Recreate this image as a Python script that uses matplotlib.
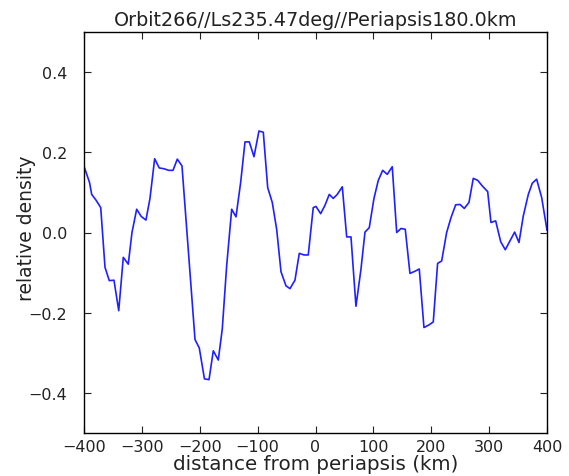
import matplotlib
matplotlib.use("Agg")
import matplotlib.pyplot as plt

distance_km = [
    -400.0, -390.5, -386.7, -378.9, -371.1, -363.7, -356.3, -348.2, -340.0, -332.1,
    -323.5, -317.1, -309.0, -301.1, -293.0, -286.0, -277.9, -270.0, -261.9, -253.7,
    -246.2, -238.8, -230.7, -208.2, -200.8, -191.9, -184.0, -176.6, -168.0, -161.1,
    -153.5, -144.8, -137.4, -129.3, -121.8, -114.4, -106.3, -97.7, -90.2, -82.6,
    -74.7, -67.1, -59.6, -51.0, -44.1, -35.5, -28.0, -19.9, -12.5, -3.9,
    0.8, 8.9, 16.4, 23.8, 30.7, 37.6, 46.3, 53.9, 61.3, 69.9,
    78.6, 85.5, 92.9, 101.0, 108.5, 116.1, 124.0, 132.6, 140.3, 147.7,
    155.1, 163.2, 171.3, 179.3, 187.4, 195.5, 203.5, 211.0, 218.0, 226.6,
    234.1, 242.2, 249.6, 257.1, 265.2, 272.6, 280.3, 288.2, 297.5, 303.2,
    311.3, 320.0, 327.9, 336.0, 344.1, 351.6, 359.0, 367.7, 374.6, 382.1,
    390.8, 400.0,
]
relative_density = [
    0.165, 0.125, 0.095, 0.080, 0.062, -0.087, -0.120, -0.119, -0.195, -0.062,
    -0.079, 0.000, 0.058, 0.040, 0.031, 0.085, 0.184, 0.161, 0.159, 0.155,
    0.155, 0.183, 0.166, -0.267, -0.288, -0.365, -0.367, -0.295, -0.318, -0.241,
    -0.083, 0.058, 0.039, 0.125, 0.226, 0.226, 0.189, 0.253, 0.250, 0.112,
    0.075, 0.008, -0.098, -0.133, -0.140, -0.119, -0.052, -0.056, -0.056, 0.062,
    0.065, 0.047, 0.068, 0.095, 0.085, 0.095, 0.114, -0.011, -0.011, -0.184,
    -0.091, 0.001, 0.012, 0.085, 0.130, 0.155, 0.145, 0.164, 0.000, 0.010,
    0.008, -0.102, -0.097, -0.091, -0.237, -0.231, -0.223, -0.077, -0.071, 0.000,
    0.037, 0.069, 0.070, 0.060, 0.075, 0.135, 0.130, 0.116, 0.102, 0.025,
    0.029, -0.023, -0.043, -0.021, 0.001, -0.025, 0.041, 0.095, 0.123, 0.133,
    0.087, 0.006,
]
x_ticks = [-400, -300, -200, -100, 0, 100, 200, 300, 400]
y_ticks = [-0.4, -0.2, 0.0, 0.2, 0.4]

title = "Orbit266//Ls235.47deg//Periapsis180.0km"

plt.rcParams['font.family'] = ['DejaVu Sans']
fig = plt.figure(figsize=(5.69, 4.77), dpi=100, facecolor='white')
ax = fig.add_axes([84/569, 1 - 434/477, (547-84)/569, (434-33)/477])
ax.plot(distance_km, relative_density, color='#2020ff', linewidth=1.2)
ax.set_xlim(-400, 400)
ax.set_ylim(-0.5, 0.5)
ax.set_xticks(x_ticks)
ax.set_yticks(y_ticks)
ax.set_xticklabels([f"{t}".replace('-', '\u2212') for t in x_ticks])
ax.set_yticklabels([f"{t:.1f}".replace('-', '\u2212') for t in y_ticks])
ax.tick_params(direction='in', top=True, right=True, length=5, width=0.8,
               labelsize=11.5, colors='#222222')
ax.tick_params(axis='x', pad=4)
ax.tick_params(axis='y', pad=12)
for s in ax.spines.values():
    s.set_linewidth(1.0)
ax.set_xlabel("distance from periapsis (km)", fontsize=14.3, labelpad=0,
              color='#222222')
ax.set_ylabel("relative density", fontsize=13.5, color='#222222')
ax.yaxis.set_label_coords((36 - 84) / 463, (434 - 228) / 401)
ax.set_title(title, fontsize=13.8, pad=5, color='#222222')
fig.savefig("out.png", dpi=100, facecolor='white')
